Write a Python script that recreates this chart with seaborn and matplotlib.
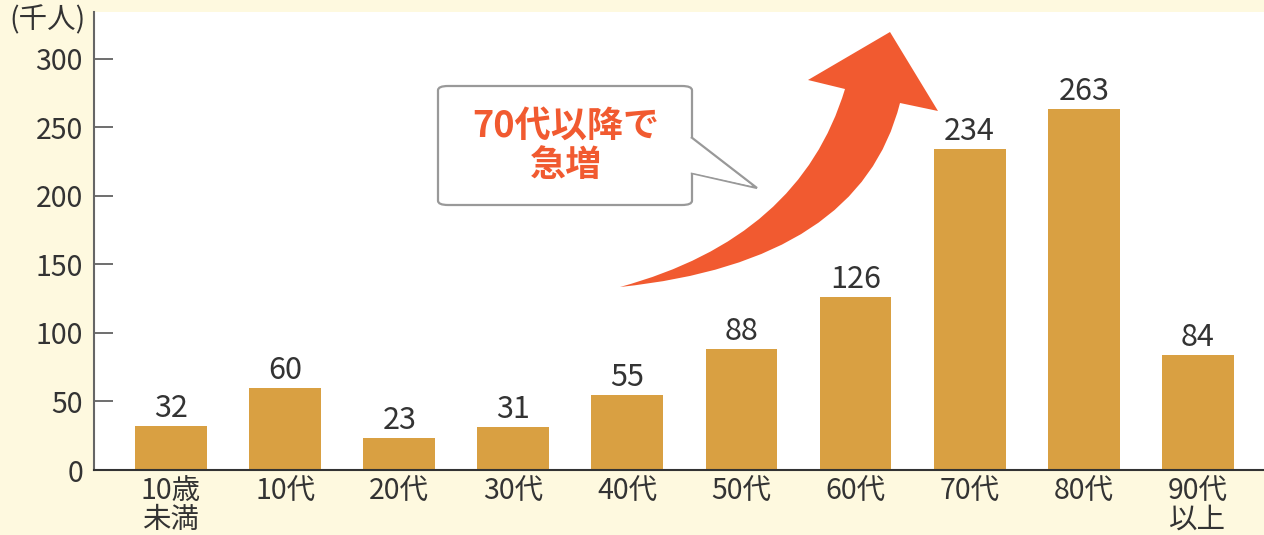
import numpy as np
import pandas as pd
import matplotlib.pyplot as plt
import seaborn as sns
from matplotlib.path import Path
from matplotlib.patches import PathPatch, FancyBboxPatch, Polygon

# - Data -
age_groups = ["10歳\n未満", "10代", "20代", "30代", "40代", "50代", "60代", "70代", "80代", "90代\n以上"]
people_thousands = [32, 60, 23, 31, 55, 88, 126, 234, 263, 84]
y_ticks = [0, 50, 100, 150, 200, 250, 300]
unit_label = "(千人)"
callout_text = "70代以降で\n急増"

bg_color = "#FEF9DF"
bar_color = "#D9A042"
text_color = "#333333"
accent = "#F15A30"

sns.set_theme(style="white")
plt.rcParams['font.family'] = ['Noto Sans CJK JP', 'DejaVu Sans']

df = pd.DataFrame({"age": age_groups, "count": people_thousands})

fig = plt.figure(figsize=(12.64, 5.35), dpi=100, facecolor=bg_color)
ax = fig.add_axes([94 / 1264, 65 / 535, 1 - 94 / 1264, (470 - 12) / 535])
ax.set_facecolor("white")

sns.barplot(data=df, x="age", y="count", color=bar_color, width=0.63,
            saturation=1, ax=ax, edgecolor="none")

for i, v in enumerate(people_thousands):
    ax.text(i, v + 1.5, str(v), ha="center", va="bottom", fontsize=22, color=text_color)

ax.set_xlim(-0.675, 9.58)
ax.set_ylim(0, 334)
ax.set_yticks(y_ticks)
ax.set_yticklabels([str(t) for t in y_ticks], fontsize=20.5, color=text_color)
ax.tick_params(axis="y", direction="in", length=14, width=1.2, color="#555555", pad=8, left=True)
ax.tick_params(axis="x", length=0, pad=4, labelsize=20.5, labelcolor=text_color)
for lbl in ax.get_xticklabels():
    lbl.set_linespacing(0.98)
    lbl.set_va("top")
ax.set_xlabel("")
ax.set_ylabel("")
for s in ["top", "right"]:
    ax.spines[s].set_visible(False)
ax.spines["left"].set_color("#666666")
ax.spines["left"].set_linewidth(1.5)
ax.spines["bottom"].set_color("#333333")
ax.spines["bottom"].set_linewidth(1.5)

fig.text(9 / 1264, 1 - 20 / 535, unit_label, fontsize=20.5, color=text_color, va="center", ha="left")


def px(x, y):
    return (x / 1264, 1 - y / 535)


# curved arrow (pixel coords converted to figure fraction)
verts = [px(620, 287), px(800, 238), px(845, 89),
         px(808, 80), px(890, 32), px(938, 111),
         px(900, 103), px(860, 262), px(620, 287), px(620, 287)]
codes = [Path.MOVETO, Path.CURVE3, Path.CURVE3,
         Path.LINETO, Path.LINETO, Path.LINETO,
         Path.LINETO, Path.CURVE3, Path.CURVE3, Path.CLOSEPOLY]
fig.patches.append(PathPatch(Path(verts, codes), facecolor=accent, edgecolor="none",
                             transform=fig.transFigure, figure=fig))

# callout box
x0, y0 = px(438, 205)
x1, y1 = px(692, 86)
box = FancyBboxPatch((x0, y0), x1 - x0, y1 - y0,
                     boxstyle="round,pad=0,rounding_size=0.008",
                     facecolor="white", edgecolor="#999999", linewidth=1.6,
                     transform=fig.transFigure, figure=fig)
fig.patches.append(box)
pointer = Polygon([px(691, 137), px(757, 188), px(691, 173)], closed=False,
                  facecolor="white", edgecolor="#999999", linewidth=1.6,
                  transform=fig.transFigure, figure=fig)
fig.patches.append(pointer)
fig.patches.append(Polygon([px(689, 138), px(752, 186), px(689, 172)], closed=True,
                           facecolor="white", edgecolor="none",
                           transform=fig.transFigure, figure=fig))
cx, cy = px(566, 146)
fig.text(cx, cy, callout_text, ha="center", va="center", fontsize=26, fontweight="bold",
         color=accent, linespacing=1.1)

fig.savefig("out.png", dpi=100, facecolor=bg_color)
